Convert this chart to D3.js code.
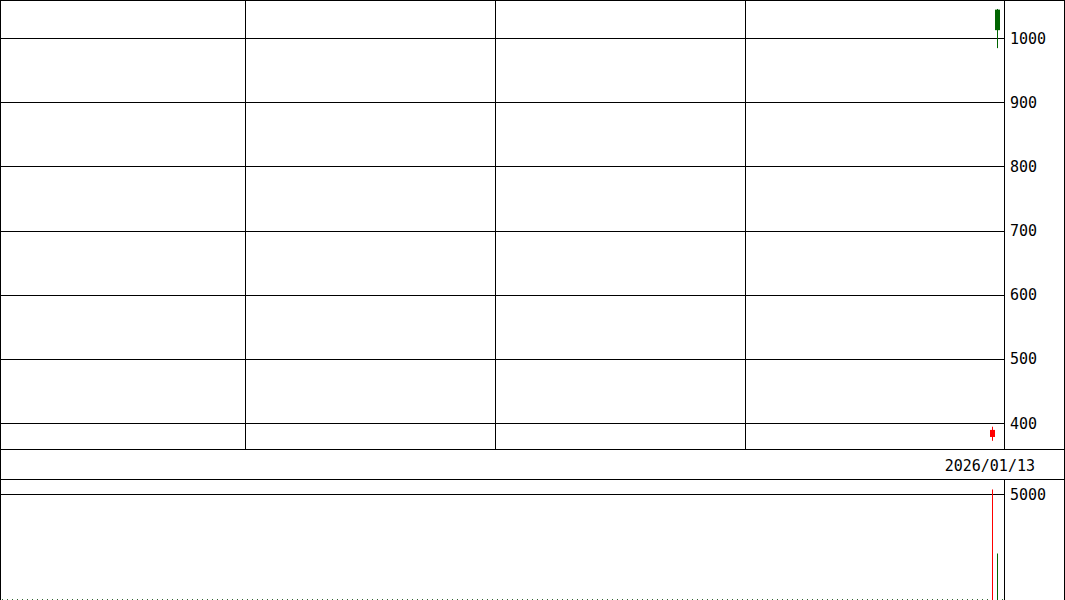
<!DOCTYPE html>
<html><head><meta charset="utf-8">
<script src="https://cdn.jsdelivr.net/npm/d3@7"></script>
<style>html,body{margin:0;padding:0;background:#fff;}svg{display:block;}</style>
</head><body>
<script>
// ---- data ----
const dates = ["2026/01/09", "2026/01/13"];
const slots = [198, 199];            // slot index of each candle on a 200-slot axis
const opens  = [379, 1045];
const highs  = [395, 1046];
const lows   = [373, 985];
const closes = [390, 1013];
const volumes = [5240, 2190];
const candleColors = ["#ff0000", "#006400"];
const priceTicks = [400, 500, 600, 700, 800, 900, 1000];
const volumeTicks = [5000];
const gridSlots = [49, 99, 149];
const dateLabel = "2026/01/13";

const W = 1065, H = 600;
const plotRight = 1004.5, axisRight = 1064.5;
const svg = d3.select("body").append("svg").attr("width", W).attr("height", H);

const x = d3.scaleLinear().domain([0, 200]).range([0, 1000]);
const y = d3.scaleLinear().domain([400, 1000]).range([423.5, 38.5]);
const yv = d3.scaleLinear().domain([0, 5000]).range([599.5, 494.5]);

const font = "'DejaVu Sans Mono', 'Liberation Mono', monospace";
const fs = 15;

// price horizontal grid
svg.append("g").selectAll("line").data(priceTicks).join("line")
  .attr("x1", 0).attr("x2", plotRight)
  .attr("y1", d => Math.round(y(d) - 0.5) + 0.5).attr("y2", d => Math.round(y(d) - 0.5) + 0.5)
  .attr("stroke", "#000").attr("stroke-width", 1);
// vertical grid
svg.append("g").selectAll("line").data(gridSlots).join("line")
  .attr("x1", d => x(d) + 0.5).attr("x2", d => x(d) + 0.5)
  .attr("y1", 0).attr("y2", 449.5)
  .attr("stroke", "#000");
// price labels
svg.append("g").selectAll("text").data(priceTicks).join("text")
  .attr("x", 1010).attr("y", d => Math.round(y(d)) + 5)
  .attr("font-family", font).attr("font-size", fs).attr("fill", "#000")
  .text(d => d);

// volume grid & labels
svg.append("g").selectAll("line").data(volumeTicks).join("line")
  .attr("x1", 0).attr("x2", plotRight)
  .attr("y1", d => yv(d)).attr("y2", d => yv(d)).attr("stroke", "#000");
svg.append("g").selectAll("text").data(volumeTicks).join("text")
  .attr("x", 1010).attr("y", d => Math.round(yv(d)) + 5)
  .attr("font-family", font).attr("font-size", fs).attr("fill", "#000")
  .text(d => d);

// bottom dotted line
svg.append("line").attr("x1", 2).attr("x2", plotRight).attr("y1", 599.5).attr("y2", 599.5)
  .attr("stroke", "#336633").attr("stroke-dasharray", "1,4");

// candles
const idx = d3.range(dates.length);
const cg = svg.append("g");
idx.forEach(i => {
  const cx = x(slots[i]) + 2.5;
  cg.append("line").attr("x1", cx).attr("x2", cx)
    .attr("y1", y(highs[i])).attr("y2", y(lows[i]))
    .attr("stroke", candleColors[i]).attr("stroke-width", 1);
  const top = y(Math.max(opens[i], closes[i])), bot = y(Math.min(opens[i], closes[i]));
  cg.append("rect").attr("x", cx - 2.5).attr("width", 5)
    .attr("y", top).attr("height", bot - top)
    .attr("fill", candleColors[i]);
  cg.append("line").attr("x1", cx).attr("x2", cx)
    .attr("y1", yv(volumes[i])).attr("y2", 600)
    .attr("stroke", candleColors[i]).attr("stroke-width", 1);
});

// frame
const f = svg.append("g").attr("stroke", "#000").attr("fill", "none");
f.append("line").attr("x1", 0).attr("x2", W).attr("y1", 0.5).attr("y2", 0.5);
f.append("line").attr("x1", 0.5).attr("x2", 0.5).attr("y1", 0).attr("y2", H);
f.append("line").attr("x1", axisRight).attr("x2", axisRight).attr("y1", 0).attr("y2", H);
f.append("line").attr("x1", plotRight).attr("x2", plotRight).attr("y1", 0).attr("y2", 449.5);
f.append("line").attr("x1", plotRight).attr("x2", plotRight).attr("y1", 479.5).attr("y2", H);
f.append("line").attr("x1", 0).attr("x2", W).attr("y1", 449.5).attr("y2", 449.5);
f.append("line").attr("x1", 0).attr("x2", W).attr("y1", 479.5).attr("y2", 479.5);

// date label
svg.append("text").attr("x", 1035).attr("y", 471).attr("text-anchor", "end")
  .attr("font-family", font).attr("font-size", fs).attr("fill", "#000")
  .text(dateLabel);
</script>
</body></html>
